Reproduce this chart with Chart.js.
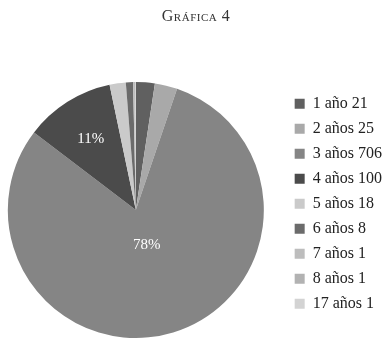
<!DOCTYPE html>
<html>
<head>
<meta charset="utf-8">
<script src="https://cdn.jsdelivr.net/npm/chart.js@4"></script>
<style>
  body { margin: 0; background: #fff; }
  #wrap { position: relative; width: 392px; height: 344px; }
  #titulo {
    position: absolute; left: 0; top: 7px; width: 392px; text-align: center;
    font-family: "Liberation Serif", serif; font-size: 16px; font-variant: small-caps;
    color: #333; letter-spacing: 0.5px;
  }
</style>
</head>
<body>
<div id="wrap">
  <div id="titulo">Gráfica 4</div>
  <canvas id="myChart" width="392" height="344"></canvas>
</div>
<script>
const categorias = ["1 año", "2 años", "3 años", "4 años", "5 años", "6 años", "7 años", "8 años", "17 años"];
const valores = [21, 25, 706, 100, 18, 8, 1, 1, 1];
const porcentajes = ["", "", "78%", "11%", "", "", "", "", ""];
const colores = ["#606060", "#a9a9a9", "#858585", "#4b4b4b", "#cacaca", "#6b6b6b", "#bdbdbd", "#b2b2b2", "#d3d3d3"];

// where the % text sits inside its slice (fraction of radius)
const labelRadio = [0, 0, 0.29, 0.66, 0, 0, 0, 0, 0];

const etiquetasPct = {
  id: "etiquetasPct",
  afterDatasetsDraw(chart) {
    const ctx = chart.ctx;
    const arcs = chart.getDatasetMeta(0).data;
    ctx.save();
    ctx.fillStyle = "#fff";
    ctx.font = '15px "Liberation Serif"';
    ctx.textAlign = "center";
    ctx.textBaseline = "middle";
    arcs.forEach((arc, i) => {
      if (!porcentajes[i]) return;
      const mid = (arc.startAngle + arc.endAngle) / 2;
      const r = arc.outerRadius * labelRadio[i];
      ctx.fillText(porcentajes[i], arc.x + Math.cos(mid) * r, arc.y + Math.sin(mid) * r);
    });
    ctx.restore();
  },
};

// pie sits a bit more to the left than chart.js puts it
const correrPie = {
  id: "correrPie",
  afterLayout(chart) {
    chart.chartArea.left -= 14;
    chart.chartArea.width += 14;
  },
};

const ctx = document.getElementById("myChart");

new Chart(ctx, {
  type: "pie",
  data: {
    labels: categorias.map((c, i) => c + " " + valores[i]),
    datasets: [
      {
        data: valores,
        backgroundColor: colores,
        borderWidth: 0,
      },
    ],
  },
  options: {
    responsive: false,
    animation: false,
    layout: {
      padding: { top: 82, bottom: 6, left: 0, right: 0 },
    },
    plugins: {
      legend: {
        position: "right",
        align: "start",
        title: { display: true, text: " ", font: { size: 4 }, padding: 0 },
        labels: {
          boxWidth: 10,
          boxHeight: 10,
          padding: 9,
          color: "#222",
          font: { family: "Liberation Serif", size: 16 },
        },
      },
      tooltip: { enabled: false },
    },
  },
  plugins: [etiquetasPct, correrPie],
});
</script>
</body>
</html>
